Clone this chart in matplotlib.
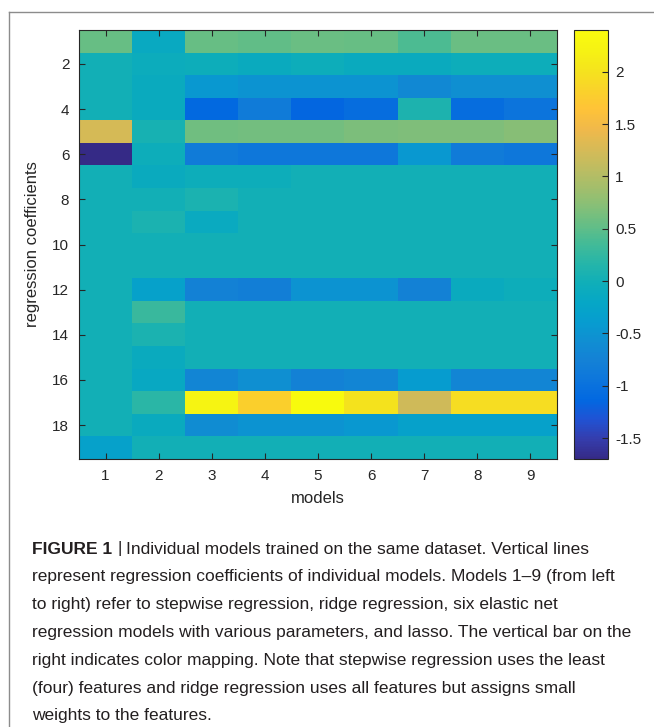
import numpy as np
import matplotlib
matplotlib.use("Agg")
import matplotlib.pyplot as plt
from matplotlib.colors import LinearSegmentedColormap
from matplotlib import font_manager

# MATLAB parula, every third entry of the 64-colour table
parula_rgb = [
    (0.2081, 0.1663, 0.5292), (0.2081, 0.2386, 0.6771), (0.1253, 0.3242, 0.8303),
    (0.0060, 0.4086, 0.8828), (0.0498, 0.4586, 0.8641), (0.0779, 0.5040, 0.8384),
    (0.0641, 0.5570, 0.8240), (0.0265, 0.6137, 0.8135), (0.0228, 0.6535, 0.7768),
    (0.0590, 0.6838, 0.7254), (0.1453, 0.7098, 0.6646), (0.2586, 0.7317, 0.5954),
    (0.3953, 0.7459, 0.5244), (0.5300, 0.7491, 0.4661), (0.6473, 0.7456, 0.4188),
    (0.7525, 0.7384, 0.3768), (0.8507, 0.7299, 0.3360), (0.9450, 0.7261, 0.2886),
    (0.9990, 0.7653, 0.2164), (0.9789, 0.8271, 0.1633), (0.9589, 0.8949, 0.1132),
    (0.9661, 0.9514, 0.0755), (0.9763, 0.9831, 0.0538),
]
parula = LinearSegmentedColormap.from_list("parula", parula_rgb, N=256)

models = [1, 2, 3, 4, 5, 6, 7, 8, 9]
coef_ticks = [2, 4, 6, 8, 10, 12, 14, 16, 18]
cbar_ticks = [-1.5, -1, -0.5, 0, 0.5, 1, 1.5, 2]

# regression coefficients, one row per feature, one column per model
coef_rows = [
    [0.55, -0.14, 0.55, 0.52, 0.57, 0.55, 0.40, 0.57, 0.57],
    [0.00, -0.08, -0.05, -0.10, -0.05, -0.10, -0.10, -0.05, -0.05],
    [0.00, -0.10, -0.45, -0.50, -0.50, -0.50, -0.65, -0.55, -0.55],
    [0.00, -0.10, -1.12, -0.84, -1.15, -1.05, 0.10, -1.05, -0.95],
    [1.25, 0.05, 0.60, 0.62, 0.62, 0.66, 0.68, 0.68, 0.72],
    [-1.70, -0.05, -0.85, -0.90, -0.90, -0.90, -0.45, -0.85, -0.90],
    [0.00, -0.10, -0.05, -0.05, 0.00, 0.00, 0.00, 0.00, 0.00],
    [0.00, 0.00, 0.08, 0.00, 0.00, 0.00, 0.00, 0.00, 0.00],
    [0.00, 0.08, -0.12, 0.00, 0.00, 0.00, 0.00, 0.00, 0.00],
    [0.00, 0.00, 0.00, 0.00, 0.00, 0.00, 0.00, 0.00, 0.00],
    [0.00, 0.00, 0.00, 0.00, 0.00, 0.00, 0.00, 0.00, 0.00],
    [0.00, -0.30, -0.75, -0.80, -0.50, -0.50, -0.75, -0.10, -0.05],
    [0.00, 0.30, 0.00, 0.00, 0.00, 0.00, 0.00, 0.00, 0.00],
    [0.00, 0.08, 0.00, 0.00, 0.00, 0.00, 0.00, 0.00, 0.00],
    [0.00, -0.10, 0.00, 0.00, 0.00, 0.00, 0.00, 0.00, 0.00],
    [0.00, -0.15, -0.70, -0.55, -0.75, -0.70, -0.40, -0.70, -0.70],
    [0.00, 0.20, 2.25, 1.80, 2.40, 2.00, 1.20, 1.95, 1.95],
    [0.00, -0.10, -0.60, -0.50, -0.50, -0.45, -0.30, -0.30, -0.30],
    [-0.30, 0.00, 0.00, 0.00, 0.00, 0.00, 0.00, 0.00, 0.00],
]
coefs = np.array(coef_rows)

caption_lines = [
    "Individual models trained on the same dataset. Vertical lines",
    "represent regression coefficients of individual models. Models 1\u20139 (from left",
    "to right) refer to stepwise regression, ridge regression, six elastic net",
    "regression models with various parameters, and lasso. The vertical bar on the",
    "right indicates color mapping. Note that stepwise regression uses the least",
    "(four) features and ridge regression uses all features but assigns small",
    "weights to the features.",
]

names = {f.name for f in font_manager.fontManager.ttflist}
cap_font = "Liberation Sans Narrow" if "Liberation Sans Narrow" in names else "Liberation Sans"
plt.rcParams["font.family"] = ["Liberation Sans", "DejaVu Sans"]

W, H = 654, 727
fig = plt.figure(figsize=(W / 100, H / 100), dpi=100)

def box(x0, y0, x1, y1):
    return [x0 / W, 1 - y1 / H, (x1 - x0) / W, (y1 - y0) / H]

tick_col = "#262626"
ax = fig.add_axes(box(79, 30, 557, 459))
im = ax.imshow(coefs, cmap=parula, aspect="auto", interpolation="nearest",
               vmin=coefs.min(), vmax=coefs.max(),
               extent=(0.5, len(models) + 0.5, len(coef_rows) + 0.5, 0.5))
ax.set_xticks(models)
ax.set_yticks(coef_ticks)
ax.tick_params(direction="in", top=True, right=True, length=4, width=0.8,
               labelsize=11, colors=tick_col, labelcolor=tick_col, pad=7)
ax.set_xlabel("models", fontsize=12, color=tick_col, labelpad=6)
ax.set_ylabel("regression coefficients", fontsize=12, color=tick_col, labelpad=9)
for s in ax.spines.values():
    s.set_color(tick_col)
    s.set_linewidth(0.8)

cax = fig.add_axes(box(574, 30, 608, 459))
cb = fig.colorbar(im, cax=cax, ticks=cbar_ticks)
cb.ax.set_yticklabels([f"{t:g}" for t in cbar_ticks])
cb.ax.tick_params(direction="in", length=4, width=0.8, labelsize=11,
                  colors=tick_col, labelcolor=tick_col, pad=5)
cb.outline.set_edgecolor(tick_col)
cb.outline.set_linewidth(0.8)

# frame lines along the top and left edge
frame_col = "#8c8c8c"
fig.add_artist(plt.Line2D([9 / W, 1], [1 - 12 / H, 1 - 12 / H], color=frame_col, lw=1))
fig.add_artist(plt.Line2D([9 / W, 9 / W], [1 - 12 / H, 0], color=frame_col, lw=1))

# caption
cap_size = 12.5
x0 = 32 / W
y_first = 549
step = 27.8
fig.canvas.draw()
renderer = fig.canvas.get_renderer()
head = fig.text(x0, 1 - y_first / H, "FIGURE 1", fontsize=cap_size, fontweight="bold",
                family=cap_font, va="center", color="#231f20")
bb = head.get_window_extent(renderer)
bar = fig.text(bb.x1 / W + 5 / W, 1 - y_first / H, "|", fontsize=cap_size, family=cap_font,
               va="center", color="#231f20")
bb2 = bar.get_window_extent(renderer)
for i, line in enumerate(caption_lines):
    x = bb2.x1 / W + 5 / W if i == 0 else x0
    fig.text(x, 1 - (y_first + i * step) / H, line, fontsize=cap_size, family=cap_font,
             va="center", color="#231f20")

fig.savefig("out.png", dpi=100)
